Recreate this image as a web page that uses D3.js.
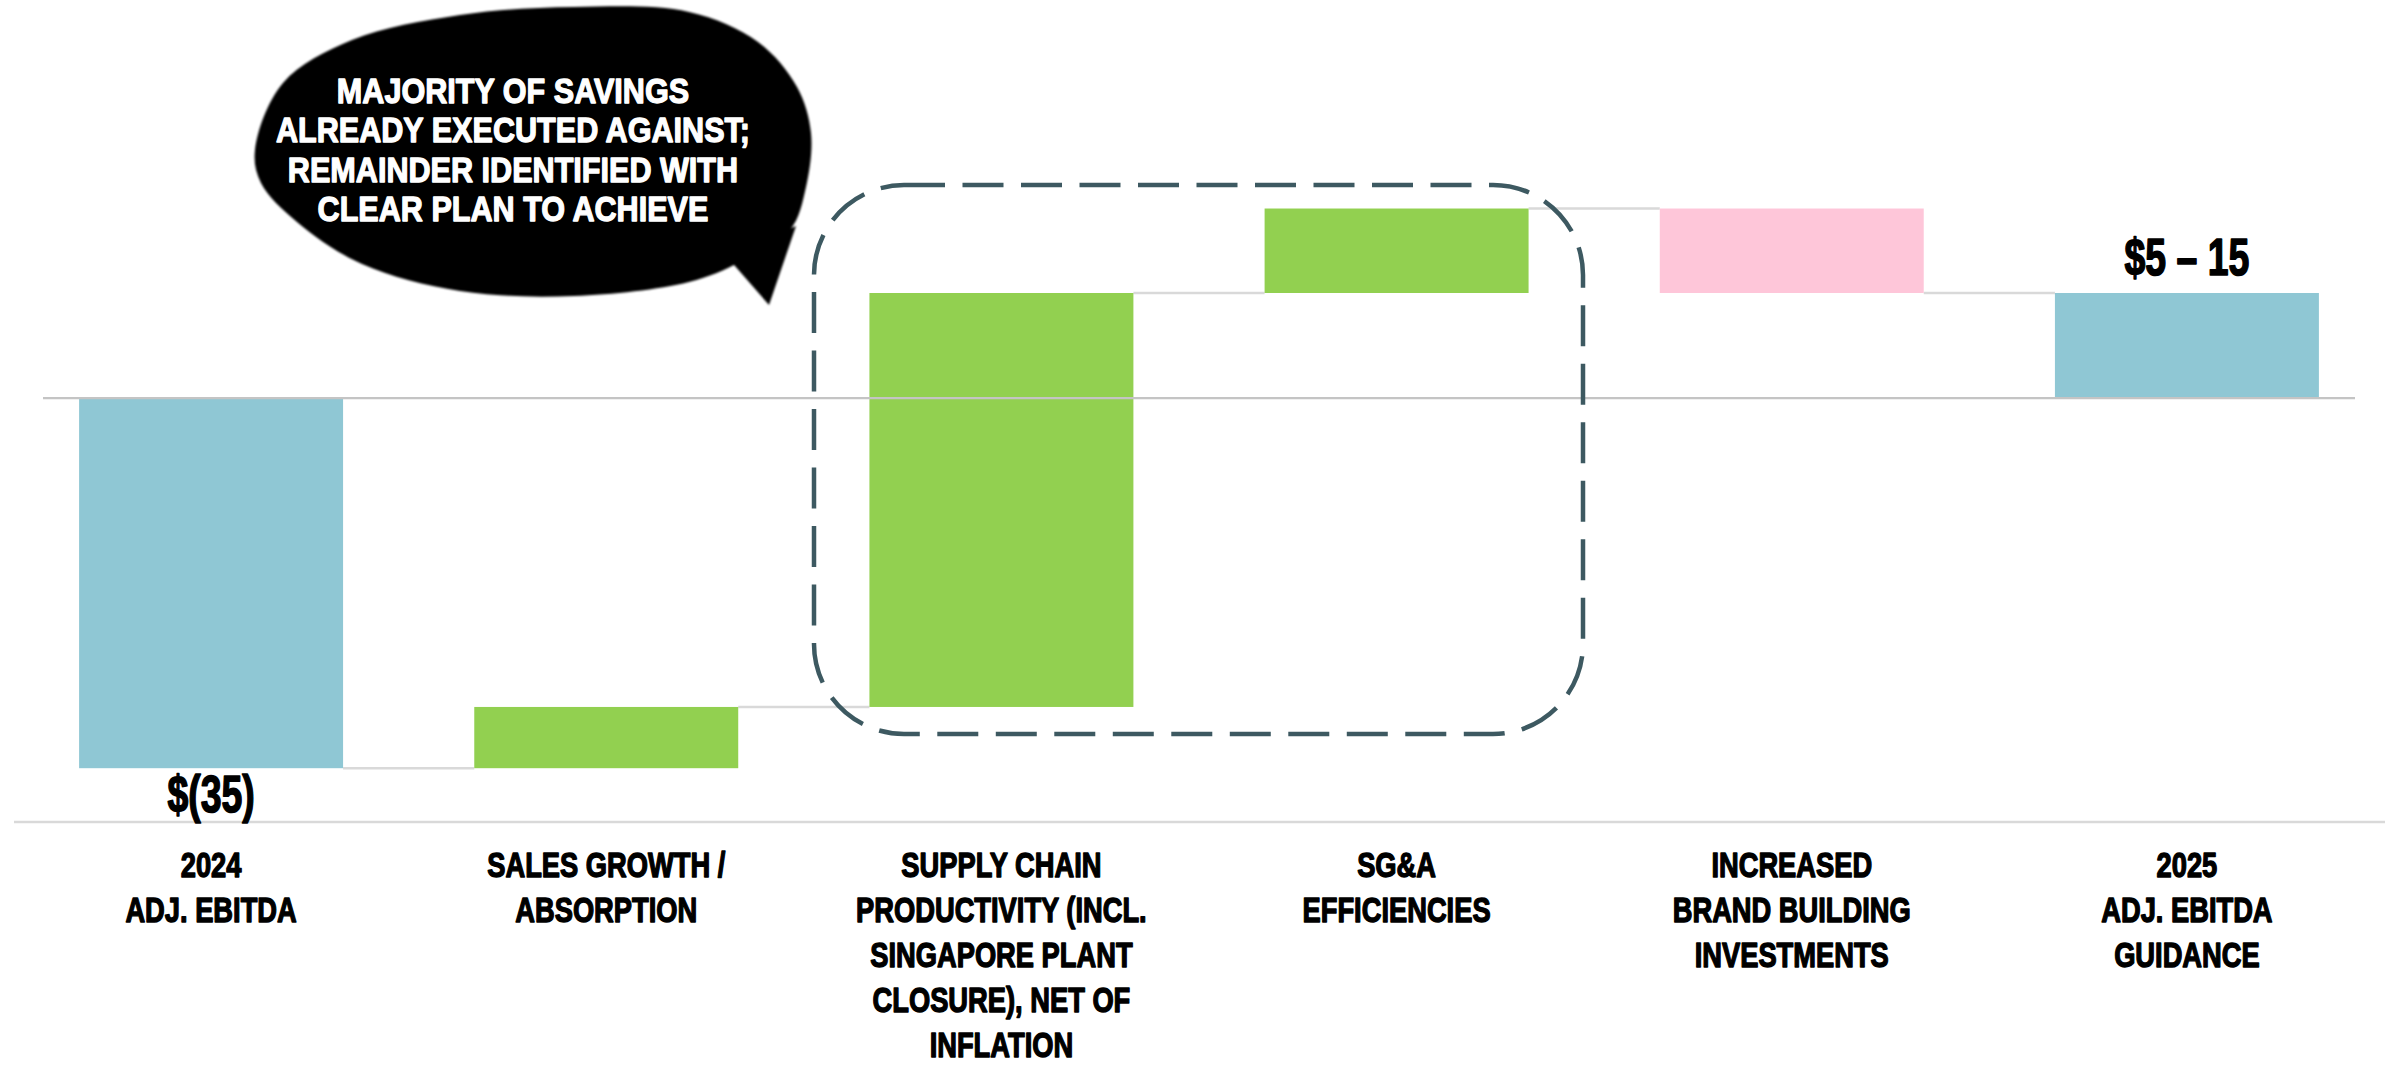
<!DOCTYPE html>
<html>
<head>
<meta charset="utf-8">
<script src="https://cdn.jsdelivr.net/npm/d3@7"></script>
<style>
  html, body { margin: 0; padding: 0; background: #ffffff; }
  svg { display: block; }
  text { font-family: "Liberation Sans", Arial, sans-serif; font-weight: 700; }
</style>
</head>
<body>
<svg id="chart" width="2389" height="1067"></svg>
<script>
// EBITDA bridge, 2024 to 2025 guidance ($M)
const categories = [
  ["2024", "ADJ. EBITDA"],
  ["SALES GROWTH /", "ABSORPTION"],
  ["SUPPLY CHAIN", "PRODUCTIVITY (INCL.", "SINGAPORE PLANT", "CLOSURE), NET OF", "INFLATION"],
  ["SG&A", "EFFICIENCIES"],
  ["INCREASED", "BRAND BUILDING", "INVESTMENTS"],
  ["2025", "ADJ. EBITDA", "GUIDANCE"]
];
const kinds  = ["total", "delta", "delta", "delta", "delta", "total"];
const values = [-35, 5.8, 39.2, 8, -8, 10];
const valueLabels = ["$(35)", null, null, null, null, "$5 – 15"];
const calloutLines = [
  "MAJORITY OF SAVINGS",
  "ALREADY EXECUTED AGAINST;",
  "REMAINDER IDENTIFIED WITH",
  "CLEAR PLAN TO ACHIEVE"
];

const colors = { total: "#8FC7D4", up: "#92D050", down: "#FEC6D9" };
const NARROW = 0.78;   // horizontal squeeze for the condensed lettering

const svg = d3.select("#chart");

// squeeze a centred text block horizontally around its anchor x
function condense(sel, cx, k) {
  sel.attr("transform", `translate(${cx},0) scale(${k},1) translate(${-cx},0)`);
}

// running totals -> bar extents
let run = 0;
const bars = values.map((v, i) => {
  let y0, y1, fill;
  if (kinds[i] === "total") {
    y0 = 0; y1 = v; run = v; fill = colors.total;
  } else {
    y0 = run; y1 = run + v; run = y1; fill = v >= 0 ? colors.up : colors.down;
  }
  return { i, y0, y1, lo: Math.min(y0, y1), hi: Math.max(y0, y1), end: run, fill };
});

const x = d3.scaleBand()
  .domain(d3.range(categories.length))
  .range([13.5, 2384.5])
  .paddingInner(0.332)
  .paddingOuter(0.166);

const y = d3.scaleLinear().domain([-40, 10]).range([821, 293]);

// connectors between consecutive bars
const gConn = svg.append("g");
bars.slice(0, -1).forEach((b, k) => {
  gConn.append("line")
    .attr("x1", x(k) + x.bandwidth())
    .attr("x2", x(k + 1))
    .attr("y1", y(b.end))
    .attr("y2", y(b.end))
    .attr("stroke", "#d9d9d9")
    .attr("stroke-width", 2.5);
});

// bars
svg.append("g").selectAll("rect")
  .data(bars)
  .join("rect")
  .attr("x", d => x(d.i))
  .attr("width", x.bandwidth())
  .attr("y", d => y(d.hi))
  .attr("height", d => y(d.lo) - y(d.hi))
  .attr("fill", d => d.fill);

// zero line
svg.append("line")
  .attr("x1", 43).attr("x2", 2355)
  .attr("y1", y(0) - 0.5).attr("y2", y(0) - 0.5)
  .attr("stroke", "#c4c4c4").attr("stroke-width", 2.2);

// category axis
const axisG = svg.append("g").attr("transform", `translate(0,${y(-40) + 1})`)
  .call(d3.axisBottom(x).tickSize(0).tickFormat(""));
axisG.select(".domain").attr("d", `M14,0H2385`).attr("stroke", "#d9d9d9").attr("stroke-width", 2.5);

// category labels
const labG = svg.append("g");
categories.forEach((lines, i) => {
  const cx = x(i) + x.bandwidth() / 2;
  const t = labG.append("text")
    .attr("text-anchor", "middle")
    .attr("font-size", 35)
    .attr("fill", "#000")
    .attr("stroke", "#000")
    .attr("stroke-width", 1.4)
    .attr("stroke-linejoin", "round");
  lines.forEach((ln, j) => {
    t.append("tspan").attr("x", cx).attr("y", 877 + j * 45).text(ln);
  });
  condense(t, cx, NARROW);
});

// value labels
bars.forEach(b => {
  const lab = valueLabels[b.i];
  if (!lab) return;
  const below = b.y1 < 0;
  const cx = x(b.i) + x.bandwidth() / 2;
  const t = svg.append("text")
    .attr("x", cx)
    .attr("y", below ? y(b.lo) + 44 : y(b.hi) - 18)
    .attr("text-anchor", "middle")
    .attr("font-size", 52)
    .attr("fill", "#000")
    .attr("stroke", "#000")
    .attr("stroke-width", 1.6)
    .attr("stroke-linejoin", "round")
    .text(lab);
  condense(t, cx, 0.72);
});

// dashed highlight around the cost-savings bars
svg.append("rect")
  .attr("x", 814).attr("y", 185)
  .attr("width", 769).attr("height", 549)
  .attr("rx", 90).attr("ry", 90)
  .attr("fill", "none")
  .attr("stroke", "#3D5961")
  .attr("stroke-width", 4.5)
  .attr("stroke-dasharray", "41 17.5");

// speech-bubble callout
const defs = svg.append("defs");
defs.append("filter").attr("id", "soft")
  .append("feGaussianBlur").attr("stdDeviation", 1.3);

const blob = [
  [255,150],[283,83],[352,40],[460,15],[574,7],[689,12],[758,42],[797,87],
  [811,133],[806,187],[790,230],[740,262],[689,282],[574,296],[460,291],
  [362,264],[297,222],[261,183]
];
const tail = [[728,258],[769,305],[796,226]];

const bubble = svg.append("g").attr("filter", "url(#soft)");
bubble.append("path")
  .attr("d", d3.line().curve(d3.curveCatmullRomClosed.alpha(0.5))(blob))
  .attr("fill", "#000");
bubble.append("path")
  .attr("d", d3.line()(tail) + "Z")
  .attr("fill", "#000");

const ct = svg.append("text")
  .attr("text-anchor", "middle")
  .attr("font-size", 36)
  .attr("fill", "#fff")
  .attr("stroke", "#fff")
  .attr("stroke-width", 1.3)
  .attr("stroke-linejoin", "round");
calloutLines.forEach((ln, j) => {
  ct.append("tspan").attr("x", 513).attr("y", 103 + j * 39.3).text(ln);
});
condense(ct, 513, 0.85);
</script>
</body>
</html>
